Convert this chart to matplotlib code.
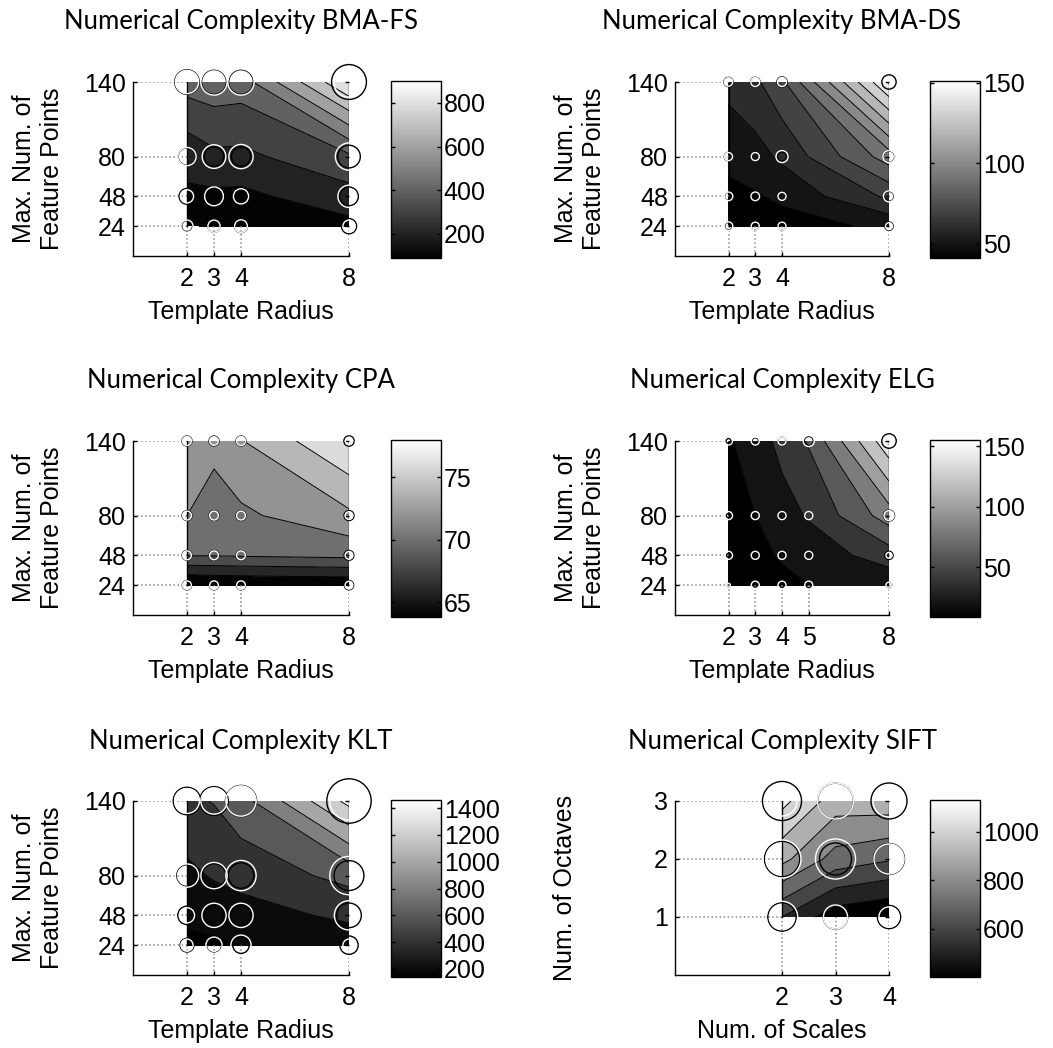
import numpy as np
import matplotlib
matplotlib.use("Agg")
import matplotlib.pyplot as plt
from matplotlib import colors as mcolors
from matplotlib.cm import ScalarMappable

# ---------------- data ----------------
radius_x = [2, 3, 4, 8]
radius_x_elg = [2, 3, 4, 5, 8]
feature_y = [24, 48, 80, 140]
scales_x = [2, 3, 4]
octaves_y = [1, 2, 3]

# rows follow the y values (ascending), columns follow the x values
bma_fs_z = [[90, 110, 125, 170],
            [185, 178, 175, 260],
            [229, 278, 275, 380],
            [443, 460, 450, 900]]
bma_fs_w = [[109, 109, 120, 109],
            [128, 262, 170, 366],
            [245, 414, 435, 551],
            [400, 511, 511, 680]]

bma_ds_z = [[41, 45, 46, 52],
            [47, 49, 52, 72],
            [53, 56, 62, 95],
            [63, 68, 78, 151]]
bma_ds_w = [[55, 48, 48, 36],
            [55, 55, 48, 90],
            [48, 48, 107, 107],
            [52, 60, 60, 55]]

cpa_z = [[63.8, 64.0, 64.1, 64.3],
         [70.1, 70.1, 70.2, 70.5],
         [72.0, 71.0, 71.6, 73.6],
         [73.0, 72.6, 73.9, 78.0]]
cpa_w = [[55, 55, 55, 45],
         [58, 58, 58, 45],
         [58, 58, 58, 45],
         [60, 55, 60, 40]]

elg_z = [[9, 12, 15, 20, 25],
         [11, 15, 22, 28, 50],
         [14, 20, 32, 42, 90],
         [18, 30, 46, 62, 155]]
elg_w = [[10, 48, 48, 48, 27],
         [48, 48, 48, 48, 27],
         [48, 48, 48, 48, 74],
         [48, 48, 48, 90, 83]]

klt_z = [[140, 170, 200, 250],
         [250, 270, 300, 450],
         [350, 420, 480, 660],
         [560, 610, 720, 1460]]
klt_w = [[109, 194, 302, 109],
         [170, 435, 435, 636],
         [400, 511, 680, 1092],
         [458, 511, 680, 1092]]

sift_z = [[600, 440, 400],
          [930, 760, 710],
          [1130, 950, 960]]
sift_w = [[730, 430, 300],
          [1070, 1190, 670],
          [670, 960, 760]]

titles = ["Numerical Complexity BMA-FS", "Numerical Complexity BMA-DS",
          "Numerical Complexity CPA", "Numerical Complexity ELG",
          "Numerical Complexity KLT", "Numerical Complexity SIFT"]
cbar_ticks = [[200, 400, 600, 800], [50, 100, 150], [65, 70, 75],
              [50, 100, 150], [200, 400, 600, 800, 1000, 1200, 1400],
              [600, 800, 1000]]
level_steps = [100, 10, 2, 20, 200, 100]
xlabels = ["Template Radius"] * 5 + ["Num. of Scales"]
ylabels = ["Max. Num. of\nFeature Points"] * 5 + ["Num. of Octaves"]

panels = [
    (radius_x, feature_y, bma_fs_z, bma_fs_w),
    (radius_x, feature_y, bma_ds_z, bma_ds_w),
    (radius_x, feature_y, cpa_z, cpa_w),
    (radius_x_elg, feature_y, elg_z, elg_w),
    (radius_x, feature_y, klt_z, klt_w),
    (scales_x, octaves_y, sift_z, sift_w),
]

# ---------------- layout ----------------
W, H = 1053, 1048
fig = plt.figure(figsize=(W / 100, H / 100), dpi=100)
sans = ["Liberation Sans", "DejaVu Sans"]
title_font = ["Lato", "DejaVu Sans"]
FS = 18

ax_left = [133, 675]
ax_width = [216, 214]
cb_left = [391, 930]
cb_width = 50
row_top = [82, 441, 801]
ax_h = 174

def frac(x, y, w, h):
    return [x / W, 1 - (y + h) / H, w / W, h / H]

cmap = plt.get_cmap("gray")
k_size = 0.7

for i, (xs, ys, zs, ws) in enumerate(panels):
    r, c = divmod(i, 2)
    ax = fig.add_axes(frac(ax_left[c], row_top[r], ax_width[c], ax_h))
    cax = fig.add_axes(frac(cb_left[c], row_top[r] - 1, cb_width, ax_h + 3))

    X, Y = np.meshgrid(xs, ys)
    Z = np.array(zs, dtype=float)
    Wv = np.array(ws, dtype=float)
    zmin, zmax = Z.min(), Z.max()
    step = level_steps[i]
    inner = np.arange(np.ceil(zmin / step) * step, zmax, step)
    inner = inner[(inner > zmin) & (inner < zmax)]
    levels = np.concatenate([[zmin], inner, [zmax]])
    norm = mcolors.Normalize(vmin=zmin, vmax=zmax)
    fills = [cmap(norm(v)) for v in levels[:-1]]

    ax.contourf(X, Y, Z, levels=levels, colors=fills, zorder=1)
    ax.contour(X, Y, Z, levels=inner, colors="k", linewidths=0.7, zorder=2)
    # outer vertical edges of the filled patch
    ax.plot([xs[0], xs[0]], [ys[0], ys[-1]], color="k", lw=1.0, zorder=2)
    ax.plot([xs[-1], xs[-1]], [ys[0], ys[-1]], color="k", lw=1.0, zorder=2)

    # dotted guide lines
    for yv in ys:
        ax.plot([0, xs[0]], [yv, yv], ls=":", color="#8a8a8a", lw=1.1, zorder=1.5)
    for xv in xs:
        ax.plot([xv, xv], [0, ys[0]], ls=":", color="#8a8a8a", lw=1.1, zorder=1.5)

    # circles
    ax.scatter(X.ravel(), Y.ravel(), s=k_size * Z.ravel(), facecolors="none",
               edgecolors="black", linewidths=1.0, zorder=5, clip_on=False)
    ax.scatter(X.ravel(), Y.ravel(), s=k_size * Wv.ravel(), facecolors="none",
               edgecolors="white", linewidths=1.0, zorder=6, clip_on=False)

    ax.set_xlim(0, xs[-1])
    ax.set_ylim(0, ys[-1])
    ax.set_xticks(xs)
    ax.set_yticks(ys)
    ax.set_xticklabels([str(v) for v in xs], family=sans, fontsize=FS)
    ax.set_yticklabels([str(v) for v in ys], family=sans, fontsize=FS)
    ax.tick_params(axis="x", direction="in", length=3, width=1, pad=8)
    ax.tick_params(axis="y", direction="in", length=3, width=1, pad=5,
                   right=True)
    for s in ("top", "right"):
        ax.spines[s].set_visible(False)
    for s in ("left", "bottom"):
        ax.spines[s].set_linewidth(1.0)

    # colorbar
    sm = ScalarMappable(norm=norm, cmap=cmap)
    cb = fig.colorbar(sm, cax=cax)
    cb.set_ticks(cbar_ticks[i])
    cb.ax.set_yticklabels([str(v) for v in cbar_ticks[i]], family=sans, fontsize=FS)
    cb.ax.tick_params(direction="in", length=3, width=1, left=True, right=True, pad=2)
    cb.outline.set_linewidth(1.0)

    # texts
    cx = ax_left[c] + ax_width[c] / 2
    fig.text(cx / W, 1 - (row_top[r] - 60) / H, titles[i], family=title_font,
             fontsize=18.5, ha="center", va="center")
    fig.text(cx / W, 1 - (row_top[r] + ax_h + 56) / H, xlabels[i], family=sans,
             fontsize=FS, ha="center", va="center")
    ylx = ax_left[c] - 95 if "\n" in ylabels[i] else ax_left[c] - 110
    fig.text(ylx / W, 1 - (row_top[r] + ax_h / 2) / H, ylabels[i], family=sans,
             fontsize=FS, ha="center", va="center", rotation=90,
             multialignment="center", linespacing=1.25)

fig.savefig("out.png", dpi=100)
